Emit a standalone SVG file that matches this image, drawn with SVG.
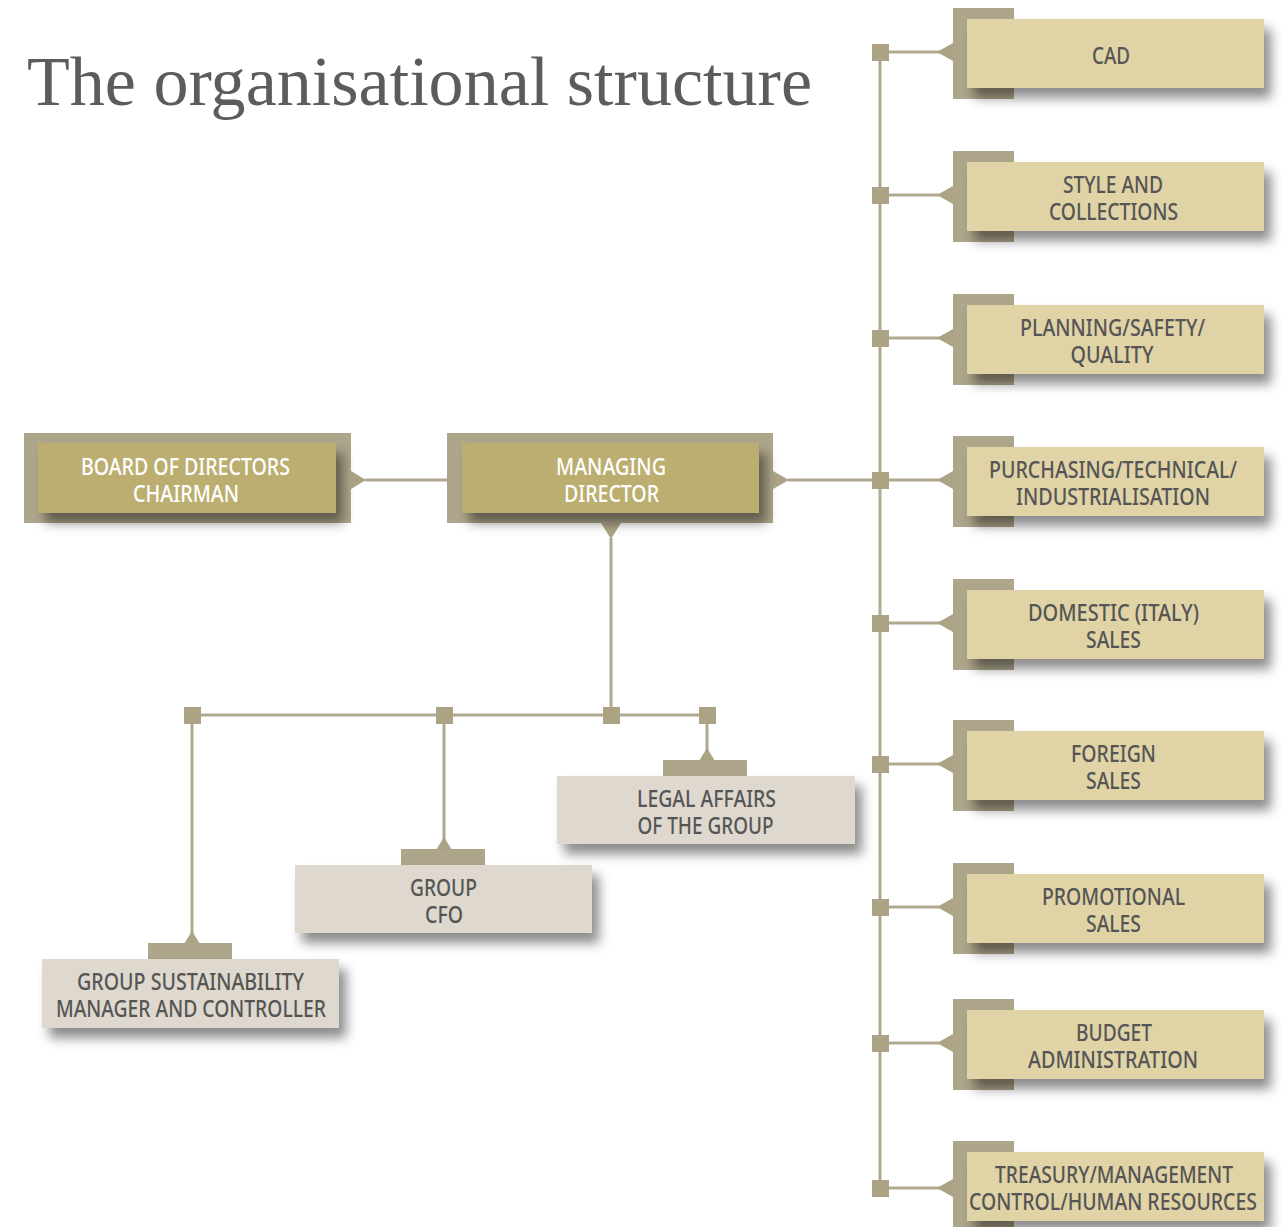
<svg xmlns="http://www.w3.org/2000/svg" width="1281" height="1227" viewBox="0 0 1281 1227">
<defs>
<filter id="sh" x="-10%" y="-20%" width="130%" height="170%">
<feDropShadow dx="7" dy="10" stdDeviation="6" flood-color="#000" flood-opacity="0.45"/>
</filter>
<style>
.back{fill:#aea68b}
.gold{fill:#bbae6f}
.pale{fill:#e0d3a6}
.grey{fill:#ded8ce}
.ln{stroke:#b1a98f;stroke-width:3;fill:none}
.sq{fill:#aca385}
.tri{fill:#aca385}
.t{font-family:"Noto Sans","Open Sans","DejaVu Sans",sans-serif;font-size:23.5px;font-weight:500;text-anchor:middle}
.w{fill:#ffffff}
.d{fill:#555555}
.title{font-family:"Liberation Serif","Times New Roman",serif;font-size:70px;fill:#5c5c5c}
</style>
</defs>
<text class="title" x="27" y="105" textLength="785" lengthAdjust="spacingAndGlyphs">The organisational structure</text>

<g id="connectors">
<line class="ln" x1="880" y1="52" x2="880" y2="1188"/>
<line class="ln" x1="365" y1="480" x2="448" y2="480"/>
<line class="ln" x1="788" y1="480" x2="880" y2="480"/>
<line class="ln" x1="611" y1="538" x2="611" y2="715"/>
<line class="ln" x1="192" y1="715" x2="707" y2="715"/>
<line class="ln" x1="192" y1="715" x2="192" y2="935"/>
<line class="ln" x1="444" y1="715" x2="444" y2="840"/>
<line class="ln" x1="707" y1="715" x2="707" y2="752"/>
<rect class="sq" x="184" y="707" width="17" height="17"/>
<rect class="sq" x="436" y="707" width="17" height="17"/>
<rect class="sq" x="603" y="707" width="17" height="17"/>
<rect class="sq" x="699" y="707" width="17" height="17"/>
<g id="right-links">
<line class="ln" x1="880" y1="52" x2="940" y2="52"/><rect class="sq" x="872" y="44" width="17" height="17"/>
<line class="ln" x1="880" y1="195" x2="940" y2="195"/><rect class="sq" x="872" y="187" width="17" height="17"/>
<line class="ln" x1="880" y1="338" x2="940" y2="338"/><rect class="sq" x="872" y="330" width="17" height="17"/>
<line class="ln" x1="880" y1="480" x2="940" y2="480"/><rect class="sq" x="872" y="472" width="17" height="17"/>
<line class="ln" x1="880" y1="623" x2="940" y2="623"/><rect class="sq" x="872" y="615" width="17" height="17"/>
<line class="ln" x1="880" y1="764" x2="940" y2="764"/><rect class="sq" x="872" y="756" width="17" height="17"/>
<line class="ln" x1="880" y1="907" x2="940" y2="907"/><rect class="sq" x="872" y="899" width="17" height="17"/>
<line class="ln" x1="880" y1="1043" x2="940" y2="1043"/><rect class="sq" x="872" y="1035" width="17" height="17"/>
<line class="ln" x1="880" y1="1188" x2="940" y2="1188"/><rect class="sq" x="872" y="1180" width="17" height="17"/>
</g>
</g>

<g id="board">
<rect class="back" x="24" y="433" width="327" height="90"/>
<polygon class="tri" points="351,471 366,480 351,489"/>
<rect class="gold" x="38" y="443" width="298" height="70" filter="url(#sh)"/>
<text class="t w" x="185.5" y="475" textLength="209" lengthAdjust="spacingAndGlyphs">BOARD OF DIRECTORS</text>
<text class="t w" x="186" y="502" textLength="106" lengthAdjust="spacingAndGlyphs">CHAIRMAN</text>
</g>

<g id="md">
<rect class="back" x="447" y="433" width="326" height="90"/>
<polygon class="tri" points="773,471 789,480 773,489"/>
<polygon class="tri" points="601,523 611,539 621,523"/>
<rect class="gold" x="462" y="443" width="297" height="70" filter="url(#sh)"/>
<text class="t w" x="611" y="475" textLength="110" lengthAdjust="spacingAndGlyphs">MANAGING</text>
<text class="t w" x="611.5" y="502" textLength="95" lengthAdjust="spacingAndGlyphs">DIRECTOR</text>
</g>

<g id="legal">
<rect class="back" x="663" y="760" width="84" height="17"/>
<polygon class="tri" points="699,761 707,748 715,761"/>
<rect class="grey" x="557" y="776" width="298" height="68" filter="url(#sh)"/>
<text class="t d" x="706.5" y="807" textLength="139" lengthAdjust="spacingAndGlyphs">LEGAL AFFAIRS</text>
<text class="t d" x="705.5" y="834" textLength="136" lengthAdjust="spacingAndGlyphs">OF THE GROUP</text>
</g>

<g id="cfo">
<rect class="back" x="401" y="849" width="84" height="17"/>
<polygon class="tri" points="436,850 444,837 452,850"/>
<rect class="grey" x="295" y="865" width="297" height="68" filter="url(#sh)"/>
<text class="t d" x="443.5" y="896" textLength="67" lengthAdjust="spacingAndGlyphs">GROUP</text>
<text class="t d" x="444" y="923" textLength="38" lengthAdjust="spacingAndGlyphs">CFO</text>
</g>

<g id="sustainability">
<rect class="back" x="148" y="943" width="84" height="17"/>
<polygon class="tri" points="184,944 192,931 200,944"/>
<rect class="grey" x="42" y="959" width="297" height="69" filter="url(#sh)"/>
<text class="t d" x="190.5" y="990" textLength="227" lengthAdjust="spacingAndGlyphs">GROUP SUSTAINABILITY</text>
<text class="t d" x="191" y="1017" textLength="270" lengthAdjust="spacingAndGlyphs">MANAGER AND CONTROLLER</text>
</g>

<g id="cad">
<rect class="back" x="953" y="8" width="61" height="91"/>
<polygon class="tri" points="953,43 937,52 953,61"/>
<rect class="pale" x="967" y="19" width="297" height="69" filter="url(#sh)"/>
<text class="t d" x="1111" y="64" textLength="38" lengthAdjust="spacingAndGlyphs">CAD</text>
</g>

<g id="style">
<rect class="back" x="953" y="151" width="61" height="91"/>
<polygon class="tri" points="953,186 937,195 953,204"/>
<rect class="pale" x="967" y="162" width="297" height="69" filter="url(#sh)"/>
<text class="t d" x="1113" y="193" textLength="100" lengthAdjust="spacingAndGlyphs">STYLE AND</text>
<text class="t d" x="1113.5" y="220" textLength="129" lengthAdjust="spacingAndGlyphs">COLLECTIONS</text>
</g>

<g id="planning">
<rect class="back" x="953" y="294" width="61" height="91"/>
<polygon class="tri" points="953,329 937,338 953,347"/>
<rect class="pale" x="967" y="305" width="297" height="69" filter="url(#sh)"/>
<text class="t d" x="1112.5" y="336" textLength="185" lengthAdjust="spacingAndGlyphs">PLANNING/SAFETY/</text>
<text class="t d" x="1112" y="363" textLength="83" lengthAdjust="spacingAndGlyphs">QUALITY</text>
</g>

<g id="purchasing">
<rect class="back" x="953" y="436" width="61" height="91"/>
<polygon class="tri" points="953,471 937,480 953,489"/>
<rect class="pale" x="967" y="447" width="297" height="69" filter="url(#sh)"/>
<text class="t d" x="1113" y="478" textLength="248" lengthAdjust="spacingAndGlyphs">PURCHASING/TECHNICAL/</text>
<text class="t d" x="1113" y="505" textLength="194" lengthAdjust="spacingAndGlyphs">INDUSTRIALISATION</text>
</g>

<g id="domestic">
<rect class="back" x="953" y="579" width="61" height="91"/>
<polygon class="tri" points="953,614 937,623 953,632"/>
<rect class="pale" x="967" y="590" width="297" height="69" filter="url(#sh)"/>
<text class="t d" x="1113.5" y="621" textLength="171" lengthAdjust="spacingAndGlyphs">DOMESTIC (ITALY)</text>
<text class="t d" x="1113.5" y="648" textLength="55" lengthAdjust="spacingAndGlyphs">SALES</text>
</g>

<g id="foreign">
<rect class="back" x="953" y="720" width="61" height="91"/>
<polygon class="tri" points="953,755 937,764 953,773"/>
<rect class="pale" x="967" y="731" width="297" height="69" filter="url(#sh)"/>
<text class="t d" x="1113.5" y="762" textLength="85" lengthAdjust="spacingAndGlyphs">FOREIGN</text>
<text class="t d" x="1113.5" y="789" textLength="55" lengthAdjust="spacingAndGlyphs">SALES</text>
</g>

<g id="promotional">
<rect class="back" x="953" y="863" width="61" height="91"/>
<polygon class="tri" points="953,898 937,907 953,916"/>
<rect class="pale" x="967" y="874" width="297" height="69" filter="url(#sh)"/>
<text class="t d" x="1113.5" y="905" textLength="143" lengthAdjust="spacingAndGlyphs">PROMOTIONAL</text>
<text class="t d" x="1113.5" y="932" textLength="55" lengthAdjust="spacingAndGlyphs">SALES</text>
</g>

<g id="budget">
<rect class="back" x="953" y="999" width="61" height="91"/>
<polygon class="tri" points="953,1034 937,1043 953,1052"/>
<rect class="pale" x="967" y="1010" width="297" height="69" filter="url(#sh)"/>
<text class="t d" x="1114" y="1041" textLength="76" lengthAdjust="spacingAndGlyphs">BUDGET</text>
<text class="t d" x="1113" y="1068" textLength="170" lengthAdjust="spacingAndGlyphs">ADMINISTRATION</text>
</g>

<g id="treasury">
<rect class="back" x="953" y="1141" width="61" height="91"/>
<polygon class="tri" points="953,1179 937,1188 953,1197"/>
<rect class="pale" x="967" y="1152" width="297" height="69" filter="url(#sh)"/>
<text class="t d" x="1114" y="1183" textLength="238" lengthAdjust="spacingAndGlyphs">TREASURY/MANAGEMENT</text>
<text class="t d" x="1113" y="1210" textLength="288" lengthAdjust="spacingAndGlyphs">CONTROL/HUMAN RESOURCES</text>
</g>
</svg>
